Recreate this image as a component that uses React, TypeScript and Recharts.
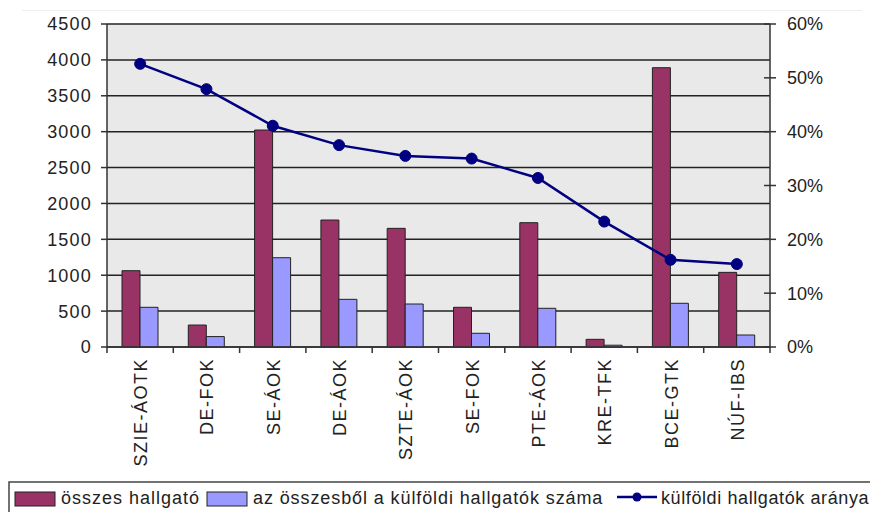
import {
    Bar,
    CartesianGrid,
    ComposedChart,
    Legend,
    Line,
    XAxis,
    YAxis
} from "recharts";

const categories = ['SZIE-ÁOTK', 'DE-FOK', 'SE-ÁOK', 'DE-ÁOK', 'SZTE-ÁOK', 'SE-FOK', 'PTE-ÁOK', 'KRE-TFK', 'BCE-GTK', 'NÚF-IBS'];
const totalStudents = [1063, 306, 3023, 1769, 1653, 553, 1732, 107, 3891, 1040];
const foreignStudents = [553, 145, 1244, 664, 599, 191, 539, 25, 609, 167];
const foreignShare = [0.526, 0.479, 0.411, 0.375, 0.355, 0.350, 0.314, 0.233, 0.162, 0.154];

const leftTicks = [0, 500, 1000, 1500, 2000, 2500, 3000, 3500, 4000, 4500];
const rightTicks = [0, 0.1, 0.2, 0.3, 0.4, 0.5, 0.6];

const legendLabels = ['összes hallgató', 'az összesből a külföldi hallgatók száma', 'külföldi hallgatók aránya'];

const data = categories.map((name, i) => ({
    name,
    total: totalStudents[i],
    foreign: foreignStudents[i],
    share: foreignShare[i]
}));

const FONT = 'Arial, "Liberation Sans", sans-serif';
const MAROON = '#993366';
const LILAC = '#9999ff';
const NAVY = '#000080';

// label plus the tick marks between categories (excel style)
const CategoryTick = ({x, y, payload, index, visibleTicksCount}: any) => {
    const half = payload.offset || 33.15;
    const tx = x + 7;
    const ty = y + 11;
    return <g>
        <line x1={x - half} x2={x - half} y1={y} y2={y + 6} stroke="#333" strokeWidth={1.5}/>
        {index === visibleTicksCount - 1 &&
            <line x1={x + half} x2={x + half} y1={y} y2={y + 6} stroke="#333" strokeWidth={1.5}/>}
        <text x={tx} y={ty} transform={`rotate(-90, ${tx}, ${ty})`} textAnchor="end"
              fontSize={18} letterSpacing={1.5} fill="#222" fontFamily={FONT}>{payload.value}</text>
    </g>;
};

const LeftTick = ({x, y, payload}: any) =>
    <text x={x} y={y} dy="0.36em" textAnchor="end" fontSize={18} letterSpacing={1.2} fill="#222" fontFamily={FONT}>
        {payload.value}
    </text>;

const RightTick = ({x, y, payload}: any) => {
    const axisX = x - 17;
    return <g>
        <line x1={axisX - 6} x2={axisX} y1={y} y2={y} stroke="#333" strokeWidth={1.5}/>
        <text x={x} y={y} dy="0.36em" textAnchor="start" fontSize={18} fill="#222" fontFamily={FONT}>
            {`${Math.round(payload.value * 100)}%`}
        </text>
    </g>;
};

const LegendBox = () => <div style={{height: 34}}>
    <svg width={870} height={34} style={{display: 'block'}}>
        <rect x={9} y={4} width={870} height={40} fill="#fff" stroke="#444" strokeWidth={1.5}/>
        <rect x={15} y={14} width={40} height={14} fill={MAROON} stroke="#222"/>
        <text x={61} y={26} fontSize={18} letterSpacing={1} fill="#222" fontFamily={FONT}>{legendLabels[0]}</text>
        <rect x={207} y={14} width={40} height={14} fill={LILAC} stroke="#222"/>
        <text x={253} y={26} fontSize={18} letterSpacing={0.9} fill="#222" fontFamily={FONT}>{legendLabels[1]}</text>
        <line x1={617} x2={657} y1={19} y2={19} stroke={NAVY} strokeWidth={2.5}/>
        <circle cx={637} cy={19} r={4.5} fill={NAVY}/>
        <text x={661} y={26} fontSize={18} letterSpacing={0.6} fill="#222" fontFamily={FONT}>{legendLabels[2]}</text>
    </svg>
</div>;

const App = () => <div style={{position: 'absolute', left: 0, top: 0, width: 870, height: 512, background: '#fff'}}>
    <div style={{position: 'absolute', left: 22, top: 10, width: 840, height: 1, background: '#eeeeee'}}/>
    <ComposedChart
        width={870}
        height={512}
        data={data}
        barGap={0}
        margin={{top: 24, right: 0, bottom: 0, left: 0}}
    >
        <CartesianGrid vertical={false} fill="#e9e9e9" stroke="#222" strokeWidth={1.5} yAxisId="left"/>
        <XAxis dataKey="name" height={131} interval={0} tickSize={0} tickMargin={0}
               tick={<CategoryTick/>} axisLine={{stroke: '#333', strokeWidth: 1.5}} tickLine={false}/>
        <YAxis yAxisId="left" orientation="left" width={107} domain={[0, 4500]} ticks={leftTicks}
               tickSize={6} tickMargin={9} tick={<LeftTick/>}
               axisLine={{stroke: '#333', strokeWidth: 1.5}} tickLine={{stroke: '#333', strokeWidth: 1.5}}/>
        <YAxis yAxisId="right" orientation="right" width={100} domain={[0, 0.6]} ticks={rightTicks}
               tickSize={6} tickMargin={11} tick={<RightTick/>}
               axisLine={{stroke: '#333', strokeWidth: 1.5}} tickLine={{stroke: '#333', strokeWidth: 1.5}}/>
        <Legend verticalAlign="bottom" align="left" content={<LegendBox/>}/>
        <Bar yAxisId="left" dataKey="total" name={legendLabels[0]} fill={MAROON} stroke="#222" strokeWidth={1}
             barSize={18} isAnimationActive={false}/>
        <Bar yAxisId="left" dataKey="foreign" name={legendLabels[1]} fill={LILAC} stroke="#222" strokeWidth={1}
             barSize={18} isAnimationActive={false}/>
        <Line yAxisId="right" type="linear" dataKey="share" name={legendLabels[2]} stroke={NAVY} strokeWidth={2.5}
              dot={{r: 5.5, fill: NAVY, stroke: NAVY, strokeWidth: 1}} isAnimationActive={false}/>
    </ComposedChart>
</div>;

export default App;
